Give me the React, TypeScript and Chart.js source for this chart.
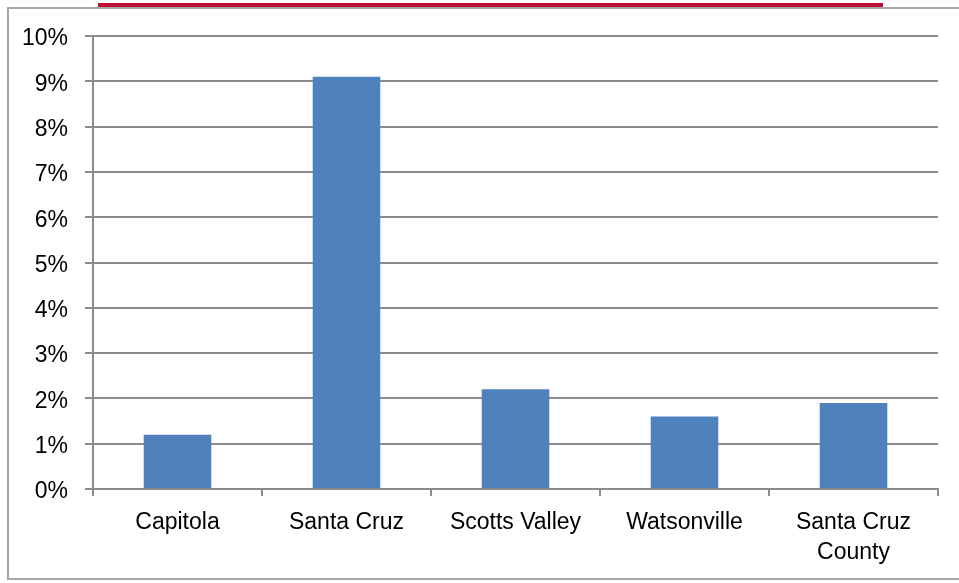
import React, { useEffect, useRef } from "react";
import { Chart, registerables } from "chart.js";

Chart.register(...registerables);

const categories: (string | string[])[] = [
  "Capitola",
  "Santa Cruz",
  "Scotts Valley",
  "Watsonville",
  ["Santa Cruz", "County"],
];
const values: number[] = [1.2, 9.1, 2.2, 1.6, 1.9];
const yTickMax = 10;
const yTickStep = 1;

const FONT = "'Liberation Sans Narrow', 'Arial Narrow', 'Liberation Sans', Arial, sans-serif";

export default function App() {
  const ref = useRef<HTMLCanvasElement | null>(null);
  useEffect(() => {
    if (!ref.current) return;
    const chart = new Chart(ref.current, {
      type: "bar",
      data: {
        labels: categories,
        datasets: [
          {
            data: values,
            backgroundColor: "#4F81BD",
            borderWidth: 0,
            barPercentage: 0.8,
            categoryPercentage: 0.5,
          },
        ],
      },
      options: {
        animation: false,
        responsive: false,
        maintainAspectRatio: false,
        layout: { padding: { left: 0, right: 21, top: 36, bottom: 0 } },
        plugins: { legend: { display: false }, tooltip: { enabled: false }, title: { display: false } },
        scales: {
          x: {
            afterFit: (s: any) => {
              s.height = 94;
            },
            grid: {
              display: true,
              drawOnChartArea: false,
              drawTicks: true,
              tickLength: 7,
              color: "#8c8c8c",
              lineWidth: 2,
              offset: true,
            },
            border: { display: true, color: "#8c8c8c", width: 2 },
            ticks: {
              color: "#000",
              padding: 12,
              font: { family: FONT, size: 23, lineHeight: 1.3 },
              maxRotation: 0,
              autoSkip: false,
            },
          },
          y: {
            min: 0,
            max: yTickMax,
            afterFit: (s: any) => {
              s.width = 93;
            },
            grid: {
              color: "#8c8c8c",
              lineWidth: 2,
              drawTicks: true,
              tickLength: 8,
            },
            border: { display: true, color: "#8c8c8c", width: 2 },
            ticks: {
              stepSize: yTickStep,
              color: "#000",
              padding: 17,
              labelOffset: 3,
              font: { family: FONT, size: 23 },
              callback: (v: any) => `${v}%`,
            },
          },
        },
      },
    });
    return () => chart.destroy();
  }, []);

  return (
    <div style={{ position: "fixed", left: 0, top: 0, width: 959, height: 583, background: "#fff", overflow: "hidden" }}>
      <div style={{ position: "absolute", left: 98, top: 3, width: 785, height: 4, background: "#BE0F34" }} />
      <div
        style={{
          position: "absolute",
          left: 7,
          top: 7,
          width: 960,
          height: 573,
          border: "2px solid #a6a6a6",
          boxSizing: "border-box",
        }}
      />
      <canvas ref={ref} width={959} height={583} style={{ position: "absolute", left: 0, top: 0 }} />
    </div>
  );
}
